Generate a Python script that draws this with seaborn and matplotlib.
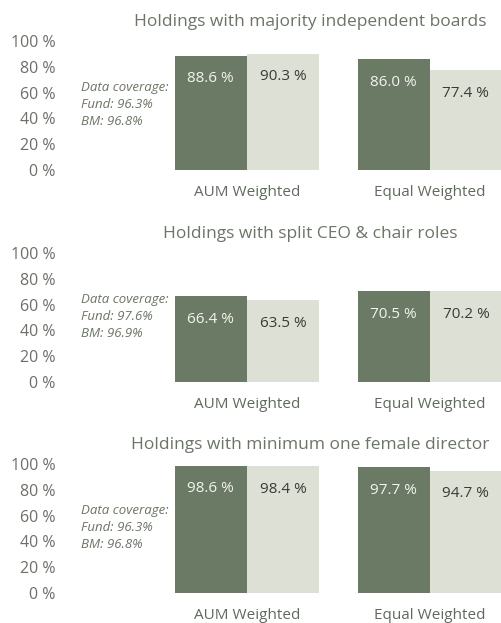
import matplotlib
matplotlib.use('Agg')
import matplotlib.pyplot as plt
import pandas as pd
import seaborn as sns

# Chart data
titles = [
    'Holdings with majority independent boards',
    'Holdings with split CEO & chair roles',
    'Holdings with minimum one female director',
]
groups = ['AUM Weighted', 'Equal Weighted']
series = ['Fund', 'BM']
fund_values = [[88.6, 86.0], [66.4, 70.5], [98.6, 97.7]]
bm_values = [[90.3, 77.4], [63.5, 70.2], [98.4, 94.7]]
coverage_fund = ['96.3%', '97.6%', '96.3%']
coverage_bm = ['96.8%', '96.9%', '96.8%']
y_ticks = [0, 20, 40, 60, 80, 100]

dark = '#6a7a64'
light = '#dde0d4'
text_grey = '#6b7068'

sns.set_theme(style='white')
plt.rcParams['font.family'] = ['Open Sans', 'DejaVu Sans']

fig = plt.figure(figsize=(5.02, 6.23), dpi=100)
bottoms = [0.7271, 0.3868, 0.0482]

for i in range(3):
    ax = fig.add_axes([0.1195, bottoms[i], 0.8805, 0.207])
    df = pd.DataFrame({
        'group': groups * 2,
        'series': [series[0]] * 2 + [series[1]] * 2,
        'value': fund_values[i] + bm_values[i],
    })
    sns.barplot(data=df, x='group', y='value', hue='series', order=groups,
                hue_order=series, palette=[dark, light], width=0.79,
                saturation=1, legend=False, linewidth=0, ax=ax)

    ax.set_ylim(0, 100)
    ax.set_xlim(-1.022, 1.395)
    ax.set_yticks(y_ticks)
    ax.set_yticklabels([f'{t} %' for t in y_ticks])
    ax.set_xlabel('')
    ax.set_ylabel('')
    ax.tick_params(axis='y', length=0, pad=3, labelsize=11.5, labelcolor=text_grey)
    ax.tick_params(axis='x', length=0, pad=11, labelsize=11, labelcolor='#5f6a5c')
    sns.despine(ax=ax, left=True, bottom=True)
    ax.set_title(titles[i], x=0.566, pad=11, fontsize=12.5, color='#6b7566')

    ax.bar_label(ax.containers[0], fmt='{:.1f} %', padding=-22, fontsize=11,
                 color='#f4f4f0')
    ax.bar_label(ax.containers[1], fmt='{:.1f} %', padding=-22, fontsize=11,
                 color='#3a3a3a')

    ax.text(-0.907, 69, f'Data coverage:\nFund: {coverage_fund[i]}\nBM: {coverage_bm[i]}',
            ha='left', va='top', fontsize=9.5, style='italic', color='#6b7566',
            linespacing=1.4)

fig.savefig('out.png', dpi=100)
